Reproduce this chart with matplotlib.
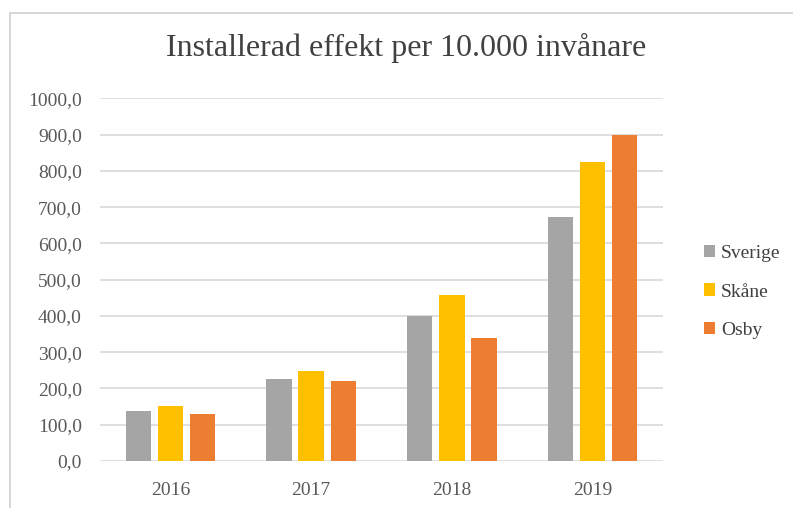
import numpy as np
from matplotlib import pyplot as plt
from matplotlib.patches import Rectangle

years = ["2016", "2017", "2018", "2019"]
series = ["Sverige", "Skåne", "Osby"]
sverige = [138, 226, 401, 673]
skane = [152, 249, 459, 823]
osby = [129, 221, 338, 900]
colors = ["#A5A5A5", "#FFC000", "#ED7D31"]

plt.rcParams['font.family'] = ['Liberation Serif', 'DejaVu Serif']

fig = plt.figure(figsize=(7.93, 5.08), dpi=100)
# chart border (top/left visible only)
fig.patches.append(Rectangle((10 / 793, -0.1), 1.2, (508 - 13) / 508 + 0.1,
                             transform=fig.transFigure, fill=False,
                             edgecolor="#D0D0D0", linewidth=1.2))

ax = fig.add_axes([100 / 793, 1 - 461 / 508, 563 / 793, (461 - 98.3) / 508])
x = np.arange(len(years))
width = 0.18
step = 0.228
for i, (vals, name) in enumerate(zip([sverige, skane, osby], series)):
    ax.bar(x + (i - 1) * step, vals, width, color=colors[i], label=name, zorder=3)

ax.set_ylim(0, 1000)
ax.set_xlim(-0.5, 3.5)
ax.set_yticks(np.arange(0, 1001, 100))
ax.set_yticklabels([f"{v},0" for v in range(0, 1001, 100)])
ax.set_xticks(x)
ax.set_xticklabels(years)
ax.tick_params(axis="both", length=0, labelsize=14, colors="#595959")
ax.tick_params(axis="y", pad=13)
ax.tick_params(axis="x", pad=15)
ax.grid(axis="y", color="#D9D9D9", linewidth=1.2, zorder=0)
for s in ax.spines.values():
    s.set_visible(False)

fig.text(0.512, 1 - 48 / 508, "Installerad effekt per 10.000 invånare",
         ha="center", va="center", fontsize=23, color="#404040")

fig.legend(loc="center left", bbox_to_anchor=(686 / 793, 1 - 292 / 508),
           frameon=False, fontsize=14, handlelength=0.6, handleheight=0.6,
           handletextpad=0.3, labelspacing=1.1, labelcolor="#404040")

plt.savefig("out.png", dpi=100)
